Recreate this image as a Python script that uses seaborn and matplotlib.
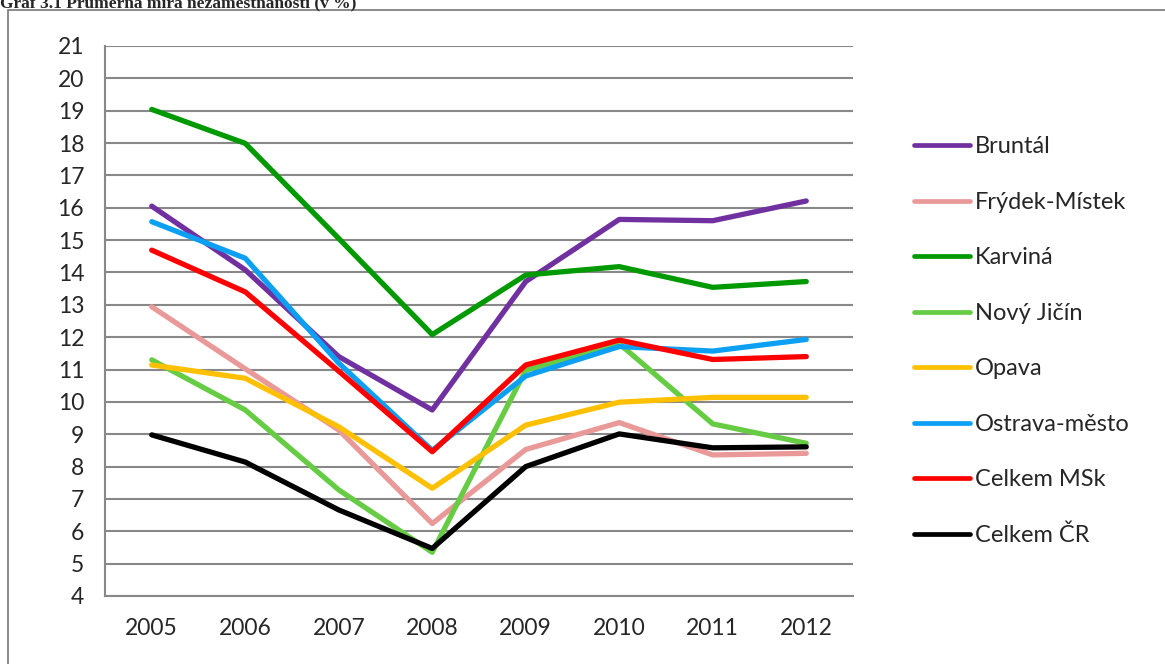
import numpy as np
import pandas as pd
import matplotlib
matplotlib.use("Agg")
import matplotlib.pyplot as plt
import seaborn as sns
from matplotlib.patches import Rectangle

roky = ["2005", "2006", "2007", "2008", "2009", "2010", "2011", "2012"]

bruntal = [16.05, 14.08, 11.4, 9.75, 13.72, 15.64, 15.6, 16.21]
frydek_mistek = [12.94, 11.02, 9.13, 6.24, 8.53, 9.36, 8.36, 8.41]
karvina = [19.04, 17.99, 15.05, 12.08, 13.92, 14.18, 13.54, 13.72]
novy_jicin = [11.3, 9.75, 7.28, 5.35, 10.98, 11.8, 9.32, 8.72]
opava = [11.14, 10.73, 9.23, 7.33, 9.28, 9.99, 10.14, 10.14]
ostrava_mesto = [15.57, 14.44, 11.2, 8.5, 10.8, 11.71, 11.57, 11.93]
celkem_msk = [14.69, 13.4, 10.95, 8.46, 11.14, 11.91, 11.31, 11.4]
celkem_cr = [8.98, 8.14, 6.66, 5.47, 8.0, 9.01, 8.58, 8.61]

okresy = ["Bruntál", "Frýdek-Místek", "Karviná", "Nový Jičín", "Opava",
          "Ostrava-město", "Celkem MSk", "Celkem ČR"]
hodnoty = [bruntal, frydek_mistek, karvina, novy_jicin, opava,
           ostrava_mesto, celkem_msk, celkem_cr]
barvy = ["#7030A0", "#E99A98", "#009A00", "#66CC44", "#FFC000",
         "#0CA0F4", "#FF0000", "#000000"]

df = pd.DataFrame([
    {"rok": r, "hodnota": v, "okres": o}
    for o, vals in zip(okresy, hodnoty)
    for r, v in zip(roky, vals)
])

sns.set_style("white")
plt.rcParams["font.family"] = ["Lato", "DejaVu Sans"]

fig = plt.figure(figsize=(11.65, 6.64), dpi=100)
ax = fig.add_axes([105 / 1165, 1 - 596 / 664, 748 / 1165, 550 / 664])

sns.lineplot(data=df, x="rok", y="hodnota", hue="okres", hue_order=okresy,
             palette=dict(zip(okresy, barvy)), sort=False, linewidth=3.8,
             ax=ax, legend=True)

ax.set_xlim(-0.5, 7.5)
ax.set_ylim(4, 21)
ax.set_yticks(range(4, 22))
ax.grid(axis="y", color="#888888", linewidth=1.5)
ax.set_axisbelow(True)
ax.set_xlabel("")
ax.set_ylabel("")
for s in ["top", "right"]:
    ax.spines[s].set_visible(False)
for s in ["left", "bottom"]:
    ax.spines[s].set_color("#888888")
    ax.spines[s].set_linewidth(1.5)

ax.tick_params(axis="y", length=9, width=1.5, color="#888888", labelsize=16.5, pad=6)
ax.tick_params(axis="x", which="major", length=0, labelsize=16.5, pad=16)
ax.set_xticks(np.arange(-0.5, 8, 1), minor=True)
ax.tick_params(axis="x", which="minor", length=7, width=1.5, color="#888888")

handles, labels = ax.get_legend_handles_labels()
for h in handles:
    h.set_linewidth(3.4)
    h.set_solid_capstyle("round")
ax.legend(handles, labels, loc="upper left", bbox_to_anchor=(905 / 1165, 1 - 127 / 664),
          bbox_transform=fig.transFigure, frameon=False, fontsize=17,
          handlelength=2.35, handletextpad=0.2, labelspacing=1.46, borderaxespad=0)

fig.patches.append(Rectangle((8 / 1165, -0.1), 1.2, 1 - 10 / 664 + 0.1,
                             transform=fig.transFigure, fill=False,
                             edgecolor="#777777", linewidth=1.2))

fig.text(0.0, 1 - 8 / 664, "Graf 3.1 Průměrná míra nezaměstnanosti (v %)",
         family=["Liberation Serif", "DejaVu Serif"], weight="bold", fontsize=12.5,
         ha="left", va="baseline")

fig.savefig("out.png", dpi=100)
